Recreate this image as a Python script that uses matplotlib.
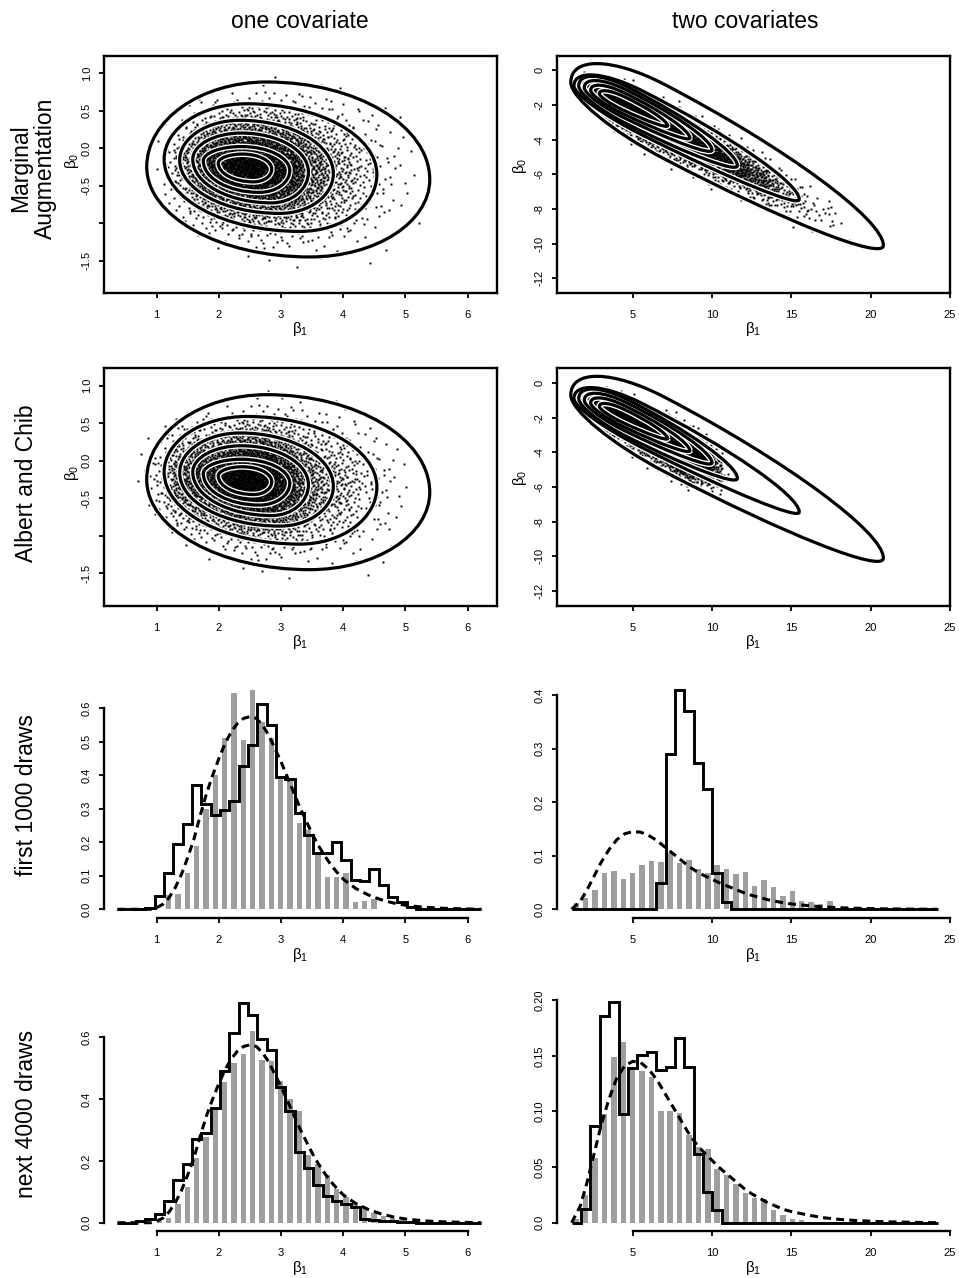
import numpy as np
import matplotlib
matplotlib.use('Agg')
import matplotlib.pyplot as plt
from matplotlib.path import Path
from matplotlib.patches import PathPatch
from statistics import NormalDist

plt.rcParams['font.family'] = ['Liberation Sans', 'DejaVu Sans']
plt.rcParams['mathtext.fontset'] = 'custom'
plt.rcParams['mathtext.rm'] = 'Liberation Sans'
plt.rcParams['mathtext.it'] = 'Liberation Sans:italic'
plt.rcParams['mathtext.default'] = 'regular'

W, H = 959, 1278

# ---------------- values ----------------
col_titles = ['one covariate', 'two covariates']
row_titles = ['Marginal\nAugmentation', 'Albert and Chib', 'first 1000 draws', 'next 4000 draws']

# histogram bins (density scale), 39 bins per covariate case
one_lo, one_bw = 0.368, 0.15
two_lo, two_bw = 1.15, 0.592

# one covariate: black steps = Albert and Chib, grey bars = marginal augmentation
one_first_ac = [0, 0, 0, 0.004, 0.040, 0.109, 0.195, 0.255, 0.370, 0.314, 0.281, 0.297, 0.324,
                0.428, 0.490, 0.613, 0.550, 0.394, 0.390, 0.287, 0.222, 0.167, 0.167, 0.201,
                0.147, 0.088, 0.083, 0.119, 0.073, 0.038, 0.021, 0.006, 0, 0, 0, 0, 0, 0, 0]
one_first_ma = [0, 0, 0, 0, 0, 0.043, 0.045, 0.109, 0.189, 0.300, 0.400, 0.510, 0.645, 0.505,
                0.655, 0.560, 0.510, 0.396, 0.390, 0.257, 0.237, 0.167, 0.095, 0.095, 0.107,
                0.021, 0.026, 0.030, 0, 0, 0, 0, 0, 0, 0, 0, 0, 0, 0]
one_next_ac = [0, 0, 0.004, 0.012, 0.029, 0.070, 0.138, 0.189, 0.270, 0.290, 0.370, 0.492, 0.614,
               0.709, 0.673, 0.594, 0.559, 0.438, 0.360, 0.229, 0.177, 0.123, 0.087, 0.070,
               0.060, 0.050, 0.012, 0.009, 0.006, 0.004, 0.003, 0.002, 0, 0, 0, 0, 0, 0, 0]
one_next_ma = [0, 0, 0, 0, 0.005, 0.014, 0.062, 0.116, 0.210, 0.278, 0.370, 0.455, 0.517, 0.544,
               0.620, 0.526, 0.523, 0.459, 0.400, 0.360, 0.220, 0.190, 0.154, 0.108, 0.084,
               0.068, 0.046, 0.032, 0.022, 0.015, 0.010, 0.005, 0.003, 0, 0, 0, 0, 0, 0]

# two covariates
two_first_ac = [0, 0, 0, 0, 0, 0, 0, 0, 0, 0.050, 0.290, 0.409, 0.370, 0.273, 0.225, 0.068,
                0.013, 0, 0, 0, 0, 0, 0, 0, 0, 0, 0, 0, 0, 0, 0, 0, 0, 0, 0, 0, 0, 0, 0]
two_first_ma = [0.011, 0.022, 0.036, 0.068, 0.072, 0.056, 0.068, 0.082, 0.090, 0.088, 0.105,
                0.086, 0.092, 0.075, 0.068, 0.083, 0.076, 0.066, 0.070, 0.044, 0.054, 0.041,
                0.024, 0.035, 0.016, 0.013, 0.009, 0.016, 0.003, 0.002, 0.001, 0, 0, 0, 0, 0,
                0, 0, 0]
two_next_ac = [0, 0.012, 0.087, 0.186, 0.198, 0.098, 0.139, 0.151, 0.153, 0.137, 0.140, 0.166,
               0.140, 0.062, 0.028, 0.011, 0, 0, 0, 0, 0, 0, 0, 0, 0, 0, 0, 0, 0, 0, 0, 0, 0,
               0, 0, 0, 0, 0, 0]
two_next_ma = [0.003, 0.025, 0.058, 0.098, 0.149, 0.162, 0.138, 0.136, 0.131, 0.100, 0.100,
               0.099, 0.079, 0.068, 0.066, 0.048, 0.043, 0.035, 0.027, 0.022, 0.021, 0.011,
               0.007, 0.003, 0.002, 0.001, 0, 0, 0, 0, 0, 0, 0, 0, 0, 0, 0, 0, 0]

# posterior density of beta1 (dashed curves)
dens_one_x = [0.37, 0.9, 1.0, 1.1, 1.2, 1.3, 1.4, 1.5, 1.6, 1.7, 1.8, 1.9, 2.0, 2.1, 2.2, 2.3,
              2.4, 2.5, 2.6, 2.7, 2.8, 2.9, 3.0, 3.1, 3.2, 3.3, 3.4, 3.5, 3.6, 3.7, 3.8, 3.9,
              4.0, 4.2, 4.4, 4.6, 4.8, 5.0, 5.3, 5.6, 6.0, 6.22]
dens_one_y = [0, 0.0, 0.005, 0.015, 0.035, 0.065, 0.105, 0.155, 0.210, 0.280, 0.345, 0.400,
              0.450, 0.495, 0.530, 0.555, 0.570, 0.575, 0.570, 0.550, 0.520, 0.480, 0.440,
              0.395, 0.350, 0.305, 0.265, 0.225, 0.190, 0.160, 0.133, 0.110, 0.090, 0.062,
              0.043, 0.029, 0.019, 0.012, 0.006, 0.003, 0.001, 0.0]
dens_two_x = [1.15, 1.7, 2.1, 2.5, 3.0, 3.5, 4.0, 4.5, 5.0, 5.5, 6.0, 6.5, 7.0, 7.5, 8.0, 8.5,
              9.0, 9.5, 10.0, 10.5, 11.0, 11.5, 12.0, 12.5, 13.0, 13.5, 14.0, 14.5, 15.0, 16.0,
              17.0, 18.0, 19.0, 20.5, 22.0, 24.2]
dens_two_y = [0.0, 0.015, 0.035, 0.058, 0.087, 0.111, 0.130, 0.141, 0.145, 0.144, 0.138, 0.129,
              0.117, 0.105, 0.093, 0.081, 0.071, 0.063, 0.056, 0.049, 0.043, 0.037, 0.031,
              0.026, 0.022, 0.018, 0.015, 0.012, 0.010, 0.007, 0.0045, 0.003, 0.002, 0.001,
              0.0005, 0.0]

# joint posterior contours, one covariate: left, right, top, bottom extreme points
cont_one = [
    [(0.84, -0.25), (5.39, -0.42), (2.77, 0.88), (3.46, -1.45)],
    [(1.12, -0.15), (4.54, -0.35), (2.45, 0.59), (3.30, -1.11)],
    [(1.37, -0.16), (3.84, -0.34), (2.34, 0.37), (2.98, -0.87)],
    [(1.58, -0.15), (3.44, -0.32), (2.36, 0.20), (2.85, -0.73)],
    [(1.75, -0.17), (3.14, -0.30), (2.36, 0.02), (2.65, -0.59)],
    [(1.99, -0.20), (2.85, -0.28), (2.38, -0.08), (2.56, -0.45)],
]
# two covariates: left end, right tip, widest point (fraction along), half widths up / down
cont_two = [
    [(1.10, -0.70), (20.8, -10.1), 0.30, 2.70, 1.60],
    [(1.30, -0.90), (15.5, -7.45), 0.30, 1.70, 0.85],
    [(1.60, -0.90), (11.6, -5.50), 0.30, 1.35, 0.80],
    [(1.95, -1.00), (10.0, -4.60), 0.32, 1.05, 0.62],
    [(2.35, -1.15), (8.60, -3.90), 0.33, 0.78, 0.46],
    [(2.90, -1.35), (7.20, -3.20), 0.35, 0.50, 0.30],
]

# beta0 given beta1 in the draws: ridge and spread, read at a few beta1 values
one_mid_x, one_mid_y, one_sd = [0.5, 2.5, 6.0], [-0.22, -0.27, -0.42], [0.28, 0.35, 0.50]
two_mid_x = [1.0, 2.5, 5.0, 8.0, 10.0, 15.0, 20.0, 25.0]
two_mid_y = [-0.5, -1.2, -2.5, -3.9, -4.8, -7.3, -9.8, -12.2]
two_sd = [0.30, 0.40, 0.58, 0.62, 0.62, 0.62, 0.50, 0.45]

# ---------------- helpers ----------------
K = 0.5523
nd = NormalDist()


def oval_path(L, R, T, B):
    L, R, T, B = map(np.asarray, (L, R, T, B))
    v = [R,
         R + [0, K * (T[1] - R[1])], T + [K * (R[0] - T[0]), 0], T,
         T + [K * (L[0] - T[0]), 0], L + [0, K * (T[1] - L[1])], L,
         L + [0, K * (B[1] - L[1])], B + [K * (L[0] - B[0]), 0], B,
         B + [K * (R[0] - B[0]), 0], R + [0, K * (B[1] - R[1])], R]
    return Path(v, [Path.MOVETO] + [Path.CURVE4] * 12)


def egg_path(L, R, t, hu, hl):
    L, R = np.asarray(L), np.asarray(R)
    m = L + t * (R - L)
    a1, a2 = R - m, L - m
    bu, bl = np.array([0, hu]), np.array([0, -hl])
    S1, S2 = m + bu, m + bl
    v = [R, R + K * bu, S1 + K * a1, S1, S1 + K * a2, L + K * bu, L,
         L + K * bl, S2 + K * a2, S2, S2 + K * a1, R + K * bl, R]
    return Path(v, [Path.MOVETO] + [Path.CURVE4] * 12)


def draw_contour(ax, path):
    ax.add_patch(PathPatch(path, fill=False, ec='white', lw=4.2, zorder=3))
    ax.add_patch(PathPatch(path, fill=False, ec='black', lw=2.3, zorder=4))


def van_der_corput(n, base):
    n = n.copy()
    out = np.zeros(len(n))
    f = 1.0 / base
    while n.any():
        out += f * (n % base)
        n //= base
        f /= base
    return out


def cloud_points(lo, bw, parts, mid_x, mid_y, sd_y):
    # beta1 follows the read histograms, beta0 the spread around the ridge
    counts = np.zeros(len(parts[0][0]))
    for heights, n in parts:
        counts += np.asarray(heights) * n * bw
    total = int(round(counts.sum()))
    edges = lo + bw * np.arange(len(counts) + 1)
    cum = np.concatenate([[0], np.cumsum(counts)]) / counts.sum()
    i = np.arange(1, total + 1)
    u = van_der_corput(i, 2)
    v = van_der_corput(i, 3)
    x = np.interp(u, cum, edges)
    z = np.array([nd.inv_cdf(p) for p in np.clip(v, 4e-4, 1 - 4e-4)])
    y = np.interp(x, mid_x, mid_y) + np.interp(x, mid_x, sd_y) * z
    return x, y


# ---------------- layout ----------------
fig = plt.figure(figsize=(W / 100, H / 100), dpi=100)
col_x0 = [104.3, 557.3]
panel_w = 392.7
row_top = [55.7, 368.4, 681.1, 993.8]
panel_h = 237.3


def add_panel(r, c):
    return fig.add_axes([col_x0[c] / W, 1 - (row_top[r] + panel_h) / H, panel_w / W, panel_h / H])


def style_ticks(ax, xticks, xlabels, yticks, ylabels):
    ax.set_xticks(xticks)
    ax.set_xticklabels(xlabels)
    ax.set_yticks(yticks)
    ax.set_yticklabels(ylabels, rotation=90, va='center')
    ax.tick_params(direction='out', length=3.6, width=1.3, labelsize=8)
    ax.tick_params(axis='x', pad=8.5)
    ax.tick_params(axis='y', pad=5.5)


xlims = [(0.158, 6.471), (0.249, 25.0)]
xt = [[1, 2, 3, 4, 5, 6], [5, 10, 15, 20, 25]]
xtl = [['1', '2', '3', '4', '5', '6'], ['5', '10', '15', '20', '25']]

scatter_ylim = [(-1.93, 1.23), (-12.85, 0.84)]
scatter_yt = [[1.0, 0.5, 0.0, -0.5, -1.0, -1.5], [0, -2, -4, -6, -8, -10, -12]]
scatter_ytl = [['1.0', '0.5', '0.0', '-0.5', '', '-1.5'],
               ['0', '-2', '-4', '-6', '-8', '-10', '-12']]

# rows 1-2: scatter of draws with posterior contours
one_ridge = (one_mid_x, one_mid_y, one_sd)
two_ridge = (two_mid_x, two_mid_y, two_sd)
clouds = {
    (0, 0): (one_lo, one_bw, [(one_first_ma, 1000), (one_next_ma, 4000)]) + one_ridge,
    (1, 0): (one_lo, one_bw, [(one_first_ac, 1000), (one_next_ac, 4000)]) + one_ridge,
    (0, 1): (two_lo, two_bw, [(two_first_ma, 1000), (two_next_ma, 4000)]) + two_ridge,
    (1, 1): (two_lo, two_bw, [(two_first_ac, 1000), (two_next_ac, 4000)]) + two_ridge,
}
for (r, c), args in clouds.items():
    ax = add_panel(r, c)
    x, y = cloud_points(*args)
    ax.plot(x, y, ls='none', marker='s', ms=1.4, mew=0, color='black', zorder=2)
    if c == 0:
        for L, R, T, B in cont_one:
            draw_contour(ax, oval_path(L, R, T, B))
    else:
        for L, R, t, hu, hl in cont_two:
            draw_contour(ax, egg_path(L, R, t, hu, hl))
    ax.set_xlim(xlims[c])
    ax.set_ylim(scatter_ylim[c])
    style_ticks(ax, xt[c], xtl[c], scatter_yt[c], scatter_ytl[c])
    for s in ax.spines.values():
        s.set_linewidth(1.7)
    ax.tick_params(top=False, right=False)
    cx = col_x0[c] + panel_w / 2
    ylab_x = 71.7 if c == 0 else 520
    fig.text(ylab_x / W, 1 - (row_top[r] + panel_h / 2 - (14 if c == 0 else 9)) / H,
             r'$\beta_0$', rotation=90, ha='center', va='center', fontsize=11)
    fig.text(cx / W, 1 - (row_top[r] + panel_h + 36) / H, r'$\beta_1$',
             ha='center', va='center', fontsize=11)

# rows 3-4: histograms of beta1
hists = {
    (2, 0): (one_lo, one_bw, one_first_ac, one_first_ma, dens_one_x, dens_one_y, (-0.0272, 0.681),
             [0, 0.1, 0.2, 0.3, 0.4, 0.5, 0.6], ['0.0', '0.1', '0.2', '0.3', '0.4', '0.5', '0.6']),
    (3, 0): (one_lo, one_bw, one_next_ac, one_next_ma, dens_one_x, dens_one_y, (-0.0271, 0.740),
             [0, 0.2, 0.4, 0.6], ['0.0', '0.2', '0.4', '0.6']),
    (2, 1): (two_lo, two_bw, two_first_ac, two_first_ma, dens_two_x, dens_two_y, (-0.0170, 0.426),
             [0, 0.1, 0.2, 0.3, 0.4], ['0.0', '0.1', '0.2', '0.3', '0.4']),
    (3, 1): (two_lo, two_bw, two_next_ac, two_next_ma, dens_two_x, dens_two_y, (-0.00755, 0.2057),
             [0, 0.05, 0.10, 0.15, 0.20], ['0.0', '0.05', '0.10', '0.15', '0.20']),
}
for (r, c), (lo, bw, ac, ma, dx, dy, ylim, yt, ytl) in hists.items():
    ax = add_panel(r, c)
    edges = lo + bw * np.arange(len(ac) + 1)
    centres = edges[:-1] + bw / 2
    ax.bar(centres, ma, width=0.58 * bw, color='#9e9e9e', lw=0, zorder=1)
    ax.stairs(ac, edges, baseline=0, color='black', lw=2.1, zorder=2)
    ax.plot(dx, dy, color='black', lw=2.2, dashes=(2.6, 1.7), zorder=3)
    ax.set_xlim(xlims[c])
    ax.set_ylim(ylim)
    style_ticks(ax, xt[c], xtl[c], yt, ytl)
    ax.spines['top'].set_visible(False)
    ax.spines['right'].set_visible(False)
    ax.spines['left'].set_bounds(0, yt[-1])
    ax.spines['bottom'].set_bounds(xt[c][0], xt[c][-1])
    ax.spines['left'].set_linewidth(1.7)
    ax.spines['bottom'].set_linewidth(1.7)
    cx = col_x0[c] + panel_w / 2
    fig.text(cx / W, 1 - (row_top[r] + panel_h + 37) / H, r'$\beta_1$',
             ha='center', va='center', fontsize=11)

# titles
fig.text(300 / W, 1 - 28 / H, col_titles[0], ha='center', va='baseline', fontsize=16.5)
fig.text(745 / W, 1 - 28 / H, col_titles[1], ha='center', va='baseline', fontsize=16.5)
row_xc = [33, 27, 27, 27]
row_yc = [168, 483, 795, 1114]
for t, xc, yc in zip(row_titles, row_xc, row_yc):
    fig.text(xc / W, 1 - yc / H, t, rotation=90, ha='center', va='center',
             fontsize=16.5, linespacing=1.1, multialignment='center')

fig.savefig('out.png', dpi=100)
